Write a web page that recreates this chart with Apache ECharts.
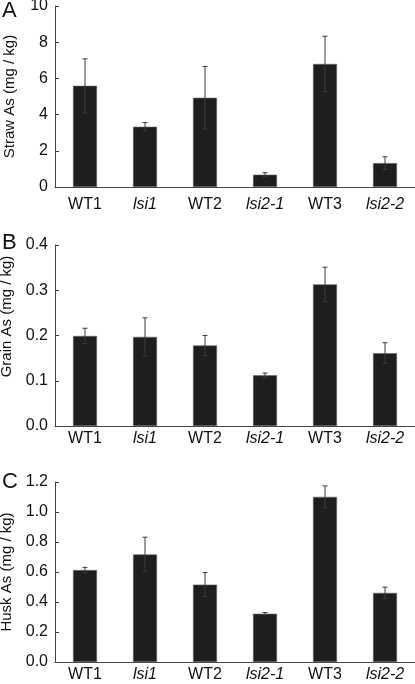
<!DOCTYPE html>
<html>
<head>
<meta charset="utf-8">
<script src="https://cdn.jsdelivr.net/npm/echarts@6/dist/echarts.min.js"></script>
<style>
html,body{margin:0;padding:0;background:#fff;}
#main{width:415px;height:684px;}
</style>
</head>
<body>
<div id="main"></div>
<script>
var categories = ['WT1', 'lsi1', 'WT2', 'lsi2-1', 'WT3', 'lsi2-2'];
var italicCats = ['lsi1', 'lsi2-1', 'lsi2-2'];

var strawAs = [5.59, 3.33, 4.93, 0.68, 6.80, 1.32];
var strawErr = [1.49, 0.23, 1.73, 0.11, 1.53, 0.35];

var grainAs = [0.199, 0.197, 0.178, 0.112, 0.313, 0.161];
var grainErr = [0.017, 0.042, 0.022, 0.005, 0.038, 0.023];

var huskAs = [0.613, 0.717, 0.516, 0.322, 1.101, 0.461];
var huskErr = [0.018, 0.115, 0.080, 0.008, 0.073, 0.038];

var panelLetters = ['A', 'B', 'C'];
var yNames = ['Straw As (mg / kg)', 'Grain As (mg / kg)', 'Husk As (mg / kg)'];
var yMax = [10, 0.4, 1.2];
var yInterval = [2, 0.1, 0.2];
var yDecimals = [0, 1, 1];

var FONT = 'Liberation Sans, Arial, Helvetica, sans-serif';
var chart = echarts.init(document.getElementById('main'));

var grids = [
  {left: 55, right: 0, top: 6, height: 181, containLabel: false, outerBoundsMode: 'none'},
  {left: 55, right: 0, top: 245, height: 181, containLabel: false, outerBoundsMode: 'none'},
  {left: 55, right: 0, top: 482, height: 180, containLabel: false, outerBoundsMode: 'none'}
];
var labelMargins = [10, 5, 5];
var namePads = [[0,0,0,0],[0,0,0,38],[0,0,0,0]];
var titleTops = [0, 232, 471];

var values = [strawAs, grainAs, huskAs];
var errs = [strawErr, grainErr, huskErr];

var xAxes = [], yAxes = [], series = [], titles = [];
for (var p = 0; p < 3; p++) {
  titles.push({
    text: panelLetters[p], left: 2, top: titleTops[p], padding: 0,
    textStyle: {fontFamily: FONT, fontSize: 22, fontWeight: 'normal', color: '#111'}
  });
  xAxes.push({
    type: 'category', gridIndex: p, data: categories,
    axisLine: {lineStyle: {color: '#444', width: 1}},
    axisTick: {inside: true, length: 4, lineStyle: {color: '#444'}},
    axisLabel: {
      margin: labelMargins[p], fontFamily: FONT, fontSize: 16, color: '#111',
      interval: 0,
      formatter: function (v) {
        return italicCats.indexOf(v) >= 0 ? '{i|' + v + '}' : v;
      },
      rich: {i: {fontStyle: 'italic', fontFamily: FONT, fontSize: 16, color: '#111'}}
    },
    splitLine: {show: false}
  });
  (function (dec) {
    yAxes.push({
      type: 'value', gridIndex: p, min: 0, max: yMax[p], interval: yInterval[p],
      name: yNames[p], nameLocation: 'middle', nameGap: 38, nameRotate: 90,
      nameTextStyle: {fontFamily: FONT, fontSize: 15, color: '#111', padding: namePads[p]},
      axisLine: {show: true, lineStyle: {color: '#444', width: 1}},
      axisTick: {show: true, inside: true, length: 4, lineStyle: {color: '#444'}},
      axisLabel: {
        margin: 7, fontFamily: FONT, fontSize: 16, color: '#111',
        formatter: function (v) { return v.toFixed(dec); }
      },
      splitLine: {show: false}
    });
  })(yDecimals[p]);
  series.push({
    type: 'bar', xAxisIndex: p, yAxisIndex: p, data: values[p],
    barWidth: 24,
    itemStyle: {color: '#1e1e1e', borderColor: '#666', borderWidth: 0.6},
    silent: true, animation: false
  });
  var ebData = values[p].map(function (v, i) { return [i, v, errs[p][i]]; });
  series.push({
    type: 'custom', xAxisIndex: p, yAxisIndex: p, data: ebData, z: 10,
    animation: false, silent: true,
    renderItem: function (params, api) {
      var i = api.value(0), v = api.value(1), e = api.value(2);
      var hi = api.coord([i, v + e]);
      var lo = api.coord([i, v - e]);
      var cap = 2.5;
      var st = {stroke: '#3a3a3a', lineWidth: 1, fill: null};
      return {
        type: 'group',
        children: [
          {type: 'line', shape: {x1: hi[0], y1: hi[1], x2: lo[0], y2: lo[1]}, style: st},
          {type: 'line', shape: {x1: hi[0] - cap, y1: hi[1], x2: hi[0] + cap, y2: hi[1]}, style: st},
          {type: 'line', shape: {x1: lo[0] - cap, y1: lo[1], x2: lo[0] + cap, y2: lo[1]}, style: st}
        ]
      };
    }
  });
}

chart.setOption({
  backgroundColor: '#fff',
  animation: false,
  title: titles,
  grid: grids,
  xAxis: xAxes,
  yAxis: yAxes,
  series: series
});
</script>
</body>
</html>
